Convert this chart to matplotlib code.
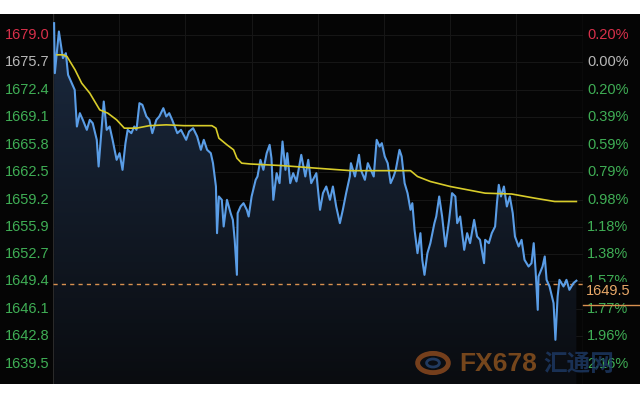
import numpy as np
import matplotlib
matplotlib.use("Agg")
import matplotlib.pyplot as plt
from matplotlib.patches import Rectangle, Circle
from matplotlib.colors import LinearSegmentedColormap

plt.rcParams['font.family'] = ['Liberation Sans', 'Noto Sans CJK SC', 'DejaVu Sans']

# minutes from session open / price (blue intraday line)
t_price = [3, 5, 16, 27, 35, 41, 51, 59, 65, 73, 81, 92, 100, 108, 119, 124, 132, 138, 146, 154,
           162, 173, 181, 189, 197, 203, 213, 221, 227, 235, 243, 254, 262, 270, 281, 289, 300, 308,
           316, 324, 338, 348, 362, 370, 381, 392, 402, 410, 419, 429, 435, 443, 446, 451, 459, 464,
           473, 483, 489, 494, 500, 502, 510, 518, 527, 532, 540, 551, 556, 564, 572, 581, 589, 594,
           599, 608, 616, 624, 632, 637, 645, 653, 662, 675, 686, 694, 702, 716, 726, 734, 743, 753,
           761, 770, 780, 788, 797, 807, 810, 821, 832, 837, 848, 856, 864, 872, 880, 888, 894, 902,
           910, 918, 926, 932, 942, 948, 956, 964, 972, 977, 983, 991, 999, 1004, 1010, 1018, 1026,
           1037, 1042, 1050, 1058, 1067, 1077, 1085, 1094, 1099, 1107, 1118, 1126, 1134, 1145, 1153,
           1161, 1172, 1175, 1185, 1193, 1202, 1207, 1212, 1218, 1226, 1234, 1242, 1250, 1256, 1266,
           1274, 1282, 1293, 1301, 1307, 1312, 1318, 1320, 1331, 1337, 1342, 1350, 1361, 1366, 1372,
           1377, 1388, 1396, 1404, 1415, 1423]
price = [1680.4, 1674.4, 1679.4, 1676.2, 1676.8, 1674.2, 1673.2, 1672.4, 1668.0, 1669.6, 1668.8,
         1667.6, 1668.8, 1668.4, 1666.4, 1663.2, 1667.6, 1671.0, 1667.6, 1668.0, 1666.4, 1664.0,
         1664.8, 1662.8, 1666.0, 1667.6, 1667.2, 1668.0, 1667.6, 1670.8, 1670.6, 1669.2, 1668.8,
         1667.2, 1668.8, 1669.2, 1670.2, 1669.2, 1669.6, 1668.8, 1667.2, 1667.6, 1666.4, 1667.4,
         1667.8, 1666.8, 1665.2, 1666.4, 1665.2, 1664.8, 1663.6, 1660.8, 1655.2, 1659.6, 1659.2,
         1656.0, 1659.2, 1657.6, 1656.8, 1654.4, 1650.2, 1657.6, 1658.4, 1658.8, 1658.0, 1657.2,
         1659.6, 1661.6, 1662.0, 1664.0, 1662.8, 1664.8, 1665.8, 1664.2, 1659.2, 1662.4, 1661.2,
         1666.2, 1662.8, 1664.8, 1661.2, 1662.4, 1661.4, 1664.6, 1662.0, 1664.0, 1661.2, 1662.4,
         1658.0, 1660.0, 1660.8, 1659.2, 1660.8, 1658.4, 1656.4, 1658.0, 1660.0, 1662.0, 1663.6,
         1662.0, 1664.6, 1662.8, 1661.6, 1663.6, 1662.8, 1662.0, 1666.4, 1665.6, 1666.0, 1664.4,
         1663.6, 1661.2, 1662.0, 1662.8, 1665.2, 1664.4, 1661.2, 1660.0, 1658.0, 1658.8, 1655.6,
         1652.8, 1655.2, 1652.0, 1650.2, 1652.8, 1654.0, 1656.4, 1657.2, 1659.6, 1657.2, 1653.6,
         1656.8, 1660.0, 1659.6, 1656.4, 1657.2, 1653.2, 1655.2, 1654.0, 1656.8, 1654.8, 1654.4,
         1651.6, 1654.4, 1654.0, 1655.2, 1656.0, 1658.8, 1661.0, 1659.6, 1660.8, 1658.4, 1659.6,
         1657.6, 1654.8, 1653.6, 1654.4, 1652.0, 1651.2, 1651.6, 1654.0, 1650.8, 1646.0, 1650.0,
         1651.2, 1652.4, 1649.6, 1648.8, 1646.8, 1642.4, 1647.6, 1649.6, 1648.8, 1649.6, 1648.4,
         1649.2, 1649.5]

# average price (yellow line)
t_avg = [11, 27, 38, 60, 78, 100, 127, 149, 173, 194, 227, 262, 308, 356, 432, 443, 451, 473, 491,
         500, 513, 537, 626, 716, 810, 972, 991, 1026, 1080, 1175, 1247, 1310, 1364, 1423]
avg_price = [1676.6, 1676.6, 1676.4, 1674.8, 1673.2, 1672.0, 1670.0, 1669.6, 1668.8, 1667.8, 1667.8,
             1668.1, 1668.2, 1668.1, 1668.1, 1667.8, 1666.6, 1665.8, 1665.2, 1664.2, 1663.6, 1663.5,
             1663.3, 1663.0, 1662.7, 1662.7, 1662.0, 1661.4, 1660.8, 1660.0, 1659.9, 1659.4, 1659.0,
             1659.0]

left_ticks = [1679.0, 1675.7, 1672.4, 1669.1, 1665.8, 1662.5, 1659.2, 1655.9, 1652.7, 1649.4,
              1646.1, 1642.8, 1639.5]
right_labels = ['0.20%', '0.00%', '0.20%', '0.39%', '0.59%', '0.79%', '0.98%', '1.18%', '1.38%',
                '1.57%', '1.77%', '1.96%', '2.16%']
prev_close = 1675.7
last_price = 1649.5
ref_line = 1649.1

RED = '#d8304a'
GRAY = '#b8b8b8'
GREEN = '#3fae55'

fig = plt.figure(figsize=(6.4, 4.0), dpi=100)
fig.patch.set_facecolor('white')
fig.add_artist(Rectangle((0, 16 / 400), 1, 370 / 400, transform=fig.transFigure,
                         facecolor='#050505', edgecolor='none', zorder=0))

ax = fig.add_axes([53 / 640, 16 / 400, 530 / 640, 370 / 400])
ax.set_facecolor('#050505')
ax.set_xlim(0, 1441)
ax.set_ylim(1637.1, 1681.5)

# faint grid
for v in left_ticks:
    ax.axhline(v, color='#161616', lw=0.8, zorder=1)
for k in range(1, 8):
    ax.axvline(k * 180, color='#161616', lw=0.8, zorder=1)
ax.axvline(0, color='#2a2a2a', lw=1.0, zorder=1)
ax.axvline(1441, color='#202020', lw=1.0, zorder=1)

# gradient fill under the price line
poly = ax.fill_between(t_price, price, 1637.1, color='none', zorder=2)
grad = np.linspace(1, 0, 256).reshape(-1, 1)
cmap = LinearSegmentedColormap.from_list('g', ['#0a0c10', '#1b2a40'])
img = ax.imshow(grad, extent=[0, 1441, 1637.1, 1681.0], aspect='auto', cmap=cmap,
                origin='upper', zorder=2)
img.set_clip_path(poly.get_paths()[0], transform=ax.transData)

ax.plot(t_price, price, color='#5a9de6', lw=1.5, zorder=4)
ax.plot(t_avg, avg_price, color='#d8cc2a', lw=1.2, zorder=5)
ax.axhline(ref_line, color='#d89050', lw=1.0, ls=(0, (3, 3)), zorder=3)

for s in ax.spines.values():
    s.set_visible(False)
ax.set_xticks([])
ax.set_yticks([])

# left / right labels
for i, v in enumerate(left_ticks):
    c = RED if v > prev_close else (GRAY if v == prev_close else GREEN)
    ax.text(-0.006, v, f'{v:.1f}', transform=ax.get_yaxis_transform(), ha='right', va='center',
            color=c, fontsize=10.5)
    ax.text(1.008, v, right_labels[i], transform=ax.get_yaxis_transform(), ha='left',
            va='center', color=c, fontsize=10.5)

# last price tag
ax.text(1.005, last_price - 1.3, f'{last_price:.1f}', transform=ax.get_yaxis_transform(),
        ha='left', va='center', color='#e8a868', fontsize=10.5, zorder=6,
        bbox=dict(facecolor='#050505', edgecolor='none', pad=1.5))
ax.plot([1.0, 1.11], [last_price - 2.9, last_price - 2.9], transform=ax.get_yaxis_transform(),
        color='#d89050', lw=1.0, clip_on=False, zorder=6)

# watermark
fig.add_artist(Circle((433 / 640, 37 / 400), 0.024, transform=fig.transFigure, fill=False,
                      edgecolor='#9a5020', lw=3.5, alpha=0.75))
fig.add_artist(Circle((433 / 640, 37 / 400), 0.010, transform=fig.transFigure, fill=False,
                      edgecolor='#2a4a7a', lw=2, alpha=0.75))
fig.text(459 / 640, 36 / 400, 'FX678', color='#9a5a20', fontsize=19, fontweight='bold',
         va='center', ha='left', alpha=0.75)
fig.text(543 / 640, 36 / 400, '汇通网', color='#1e3a66', fontsize=17, fontweight='bold',
         va='center', ha='left', alpha=0.8, family=['Noto Sans CJK SC', 'DejaVu Sans'])

fig.savefig('out.png', dpi=100, facecolor='white')
